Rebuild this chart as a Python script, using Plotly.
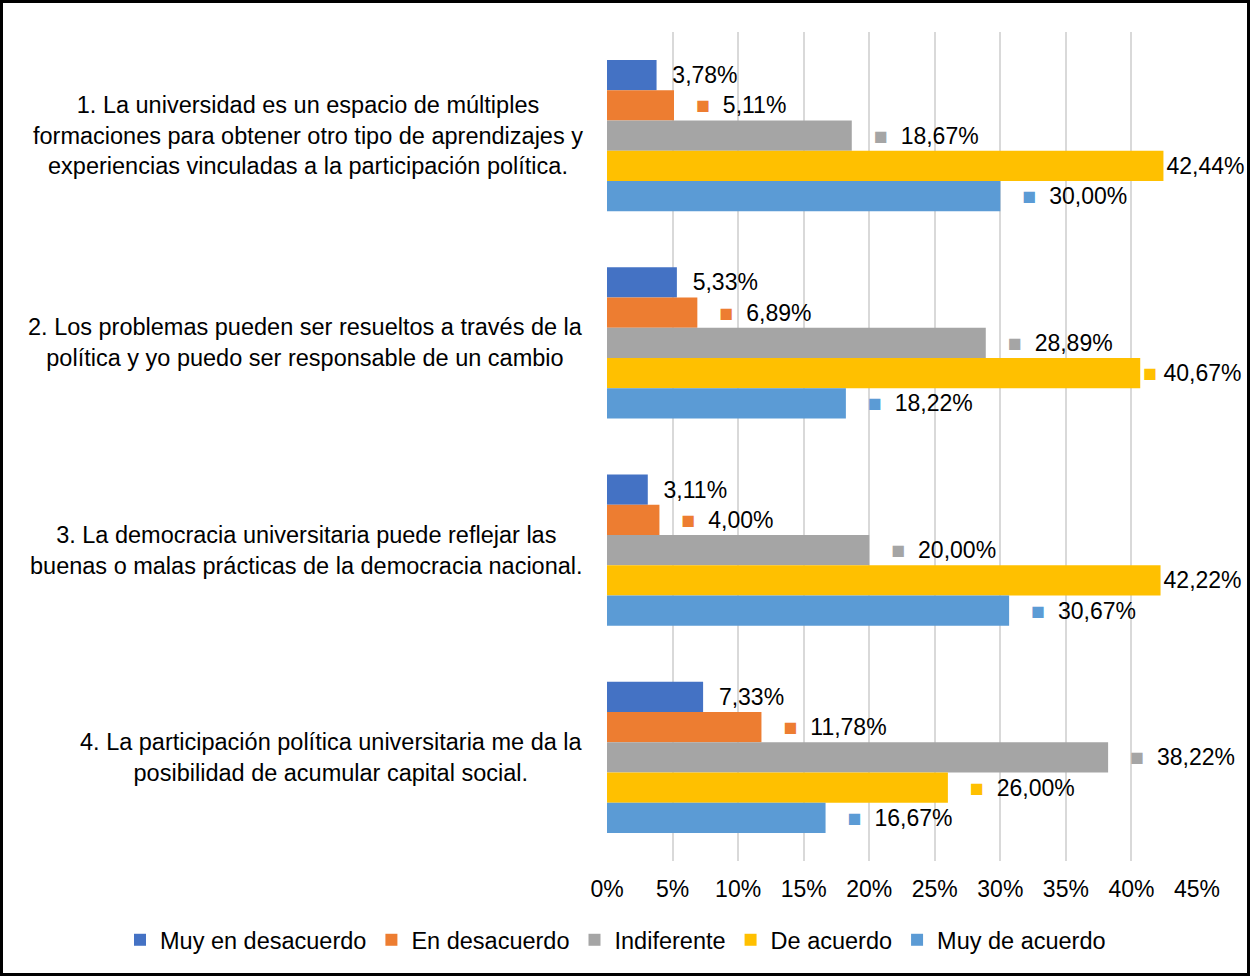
import plotly.graph_objects as go

categories = [
    "1. La universidad es un espacio de múltiples<br>formaciones para obtener otro tipo de aprendizajes y<br>experiencias vinculadas a la participación política.",
    "2. Los problemas pueden ser resueltos a través de la<br>política y yo puedo ser responsable de un cambio",
    "3. La democracia universitaria puede reflejar las<br>buenas o malas prácticas de la democracia nacional.",
    "4. La participación política universitaria me da la<br>posibilidad de acumular capital social.",
]
series_names = ["Muy en desacuerdo", "En desacuerdo", "Indiferente", "De acuerdo", "Muy de acuerdo"]
muy_en_desacuerdo = [3.78, 5.33, 3.11, 7.33]
en_desacuerdo = [5.11, 6.89, 4.00, 11.78]
indiferente = [18.67, 28.89, 20.00, 38.22]
de_acuerdo = [42.44, 40.67, 42.22, 26.00]
muy_de_acuerdo = [30.00, 18.22, 30.67, 16.67]
series_values = [muy_en_desacuerdo, en_desacuerdo, indiferente, de_acuerdo, muy_de_acuerdo]
colors = ["#4472C4", "#ED7D31", "#A5A5A5", "#FFC000", "#5B9BD5"]
tick_values = [0, 5, 10, 15, 20, 25, 30, 35, 40, 45]
tick_labels = ["0%", "5%", "10%", "15%", "20%", "25%", "30%", "35%", "40%", "45%"]
AX_MAX = 45

FONT = "Liberation Sans, Arial, sans-serif"
FS = 23.5
W, H = 1250, 976
ML, MR, MT, MB = 607, 53, 32, 115
PW, PH = W - ML - MR, H - MT - MB


def px_x(x):
    return (x - ML) / PW


def px_y(y):
    return (H - MB - y) / PH


def fmt(v):
    return f"{v:.2f}".replace(".", ",") + "%"


def label(v, color, with_key):
    s = fmt(v)
    if not with_key:
        return "  " + s
    key = f"<span style='color:{color}'>■</span>"
    room = AX_MAX - v
    if room < 3:
        return s
    if room < 5:
        return key + " " + s
    return "   " + key + "  " + s


fig = go.Figure()
for i, (name, vals, col) in enumerate(zip(series_names, series_values, colors)):
    fig.add_trace(go.Bar(
        y=categories, x=vals, name=name, orientation="h",
        marker=dict(color=col, line=dict(width=0)),
        text=[label(v, col, i > 0) for v in vals],
        textposition="outside", cliponaxis=False, constraintext="none",
        textfont=dict(family=FONT, size=23, color="#000000"),
        hoverinfo="skip",
    ))

for c in categories:
    fig.add_annotation(
        x=0, xref="paper", y=c, yref="y", text=c, showarrow=False,
        xanchor="right", yanchor="middle", align="center", xshift=-22,
        font=dict(family=FONT, size=FS, color="#000000"),
    )

# chart frame
fig.add_shape(
    type="rect", xref="paper", yref="paper",
    x0=px_x(1.5), x1=px_x(W - 1.5), y0=px_y(H - 1.5), y1=px_y(1.5),
    line=dict(color="#000000", width=3), fillcolor="rgba(0,0,0,0)", layer="above",
)

fig.update_layout(
    width=W, height=H, template="none",
    margin=dict(l=ML, r=MR, t=MT, b=MB, pad=0),
    paper_bgcolor="white", plot_bgcolor="white",
    barmode="group", bargap=0.27, bargroupgap=0,
    font=dict(family=FONT, size=FS, color="#000000"),
    xaxis=dict(range=[0, AX_MAX], tickvals=tick_values, ticktext=tick_labels,
               showgrid=True, gridcolor="#D9D9D9", gridwidth=2, zeroline=False,
               showline=False, ticks="", ticklabelstandoff=12,
               tickfont=dict(family=FONT, size=23, color="#000000")),
    yaxis=dict(autorange="reversed", showticklabels=False, showgrid=False,
               zeroline=False, showline=False, ticks=""),
    legend=dict(orientation="h", xref="paper", yref="paper",
                x=px_x(120), xanchor="left",
                y=px_y(940), yanchor="middle",
                font=dict(family=FONT, size=FS, color="#000000"),
                bgcolor="rgba(0,0,0,0)", borderwidth=0,
                itemclick=False, itemdoubleclick=False),
    showlegend=True,
)

fig.write_html(
    "out.html",
    config={"displayModeBar": False, "staticPlot": True},
    post_script="document.body.style.margin='0';document.body.style.overflow='hidden';",
)
